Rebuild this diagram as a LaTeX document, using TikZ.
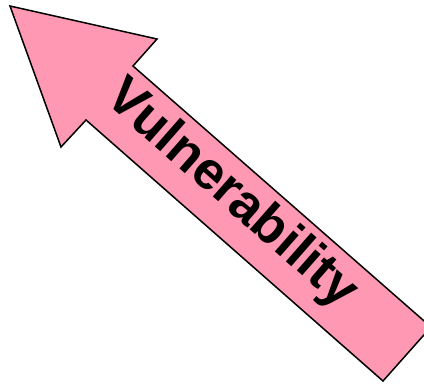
\documentclass[tikz,border=0pt]{standalone}
\usepackage{fontspec}
\setmainfont{Liberation Sans}
\usepackage{xcolor}
\usepackage{tikz}
\definecolor{rosa}{RGB}{255, 153, 179}

\begin{document}
\begin{tikzpicture}[x=1pt, y=-1pt]
  % moldura
  \useasboundingbox (0,0) rectangle (424,384);
  \clip (0,0) rectangle (424,384);
  % seta
  \draw[line width=1.5pt, fill=rosa, line join=miter]
    (10,6) -- (157,39) -- (133,66) -- (431,327) -- (383,381)
    -- (86,120) -- (61,147) -- cycle;
  % texto
  \node[rotate=-41.3, font=\bfseries\fontsize{53}{64}\selectfont] (vuln)
    at (231,195) {Vulnerability};
\end{tikzpicture}
\end{document}
